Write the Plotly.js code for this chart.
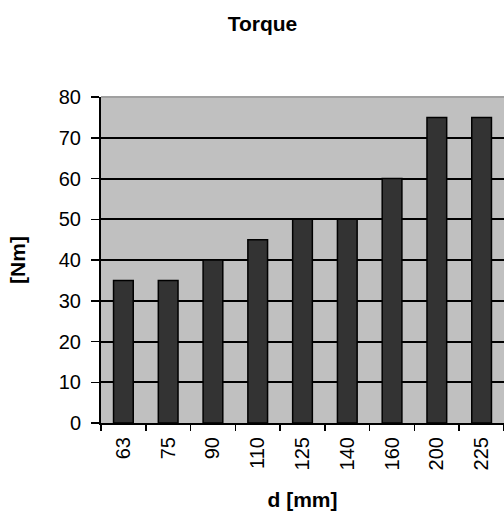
<!DOCTYPE html>
<html><head><meta charset="utf-8">
<script src="https://cdn.plot.ly/plotly-3.0.1.min.js"></script>
<style>html,body{margin:0;padding:0;background:#fff}</style>
</head><body>
<div id="chart" style="width:504px;height:511px"></div>
<script>
var categories = ["63","75","90","110","125","140","160","200","225"];
var torque = [35, 35, 40, 45, 50, 50, 60, 75, 75];
var yTicks = [0,10,20,30,40,50,60,70,80];

var trace = {
  type: "bar",
  x: categories,
  y: torque,
  marker: {color: "#333333", line: {color: "#000000", width: 1.5}},
  width: 0.44,
  hoverinfo: "none"
};

var layout = {
  width: 504, height: 511,
  margin: {l: 101, r: 0, t: 97, b: 88},
  paper_bgcolor: "#ffffff",
  plot_bgcolor: "#C0C0C0",
  font: {family: "Liberation Sans, Arial, sans-serif", color: "#000"},
  title: {text: "<b>Torque</b>", x: 262.5/504, xanchor: "center", y: 1 - 24/511, yanchor: "middle",
          font: {size: 21, color: "#000"}},
  showlegend: false,
  xaxis: {
    type: "category",
    tickangle: -90,
    tickson: "boundaries",
    ticks: "outside", ticklen: 6, tickwidth: 1.5, tickcolor: "#000",
    ticklabelstandoff: 4,
    showgrid: false,
    showline: true, linecolor: "#000", linewidth: 2,
    tickfont: {size: 20},
    title: {text: "<b>d [mm]</b>", font: {size: 21}, standoff: 23},
    fixedrange: true
  },
  yaxis: {
    range: [0, 80],
    tickvals: yTicks,
    ticks: "outside", ticklen: 8, tickwidth: 1.5, tickcolor: "#000",
    ticklabelstandoff: 6,
    showgrid: true, gridcolor: "#000", gridwidth: 2,
    zeroline: false,
    showline: true, linecolor: "#000", linewidth: 2,
    tickfont: {size: 20},
    title: {text: "<b>[Nm]</b>", font: {size: 21}, standoff: 27},
    fixedrange: true
  },
  shapes: [{
    type: "line", xref: "paper", yref: "paper", x0: 0, x1: 1, y0: 1, y1: 1,
    line: {color: "#a0a0a0", width: 2}, layer: "above"
  }]
};

Plotly.newPlot("chart", [trace], layout, {displayModeBar: false, staticPlot: true});
</script>
</body></html>
